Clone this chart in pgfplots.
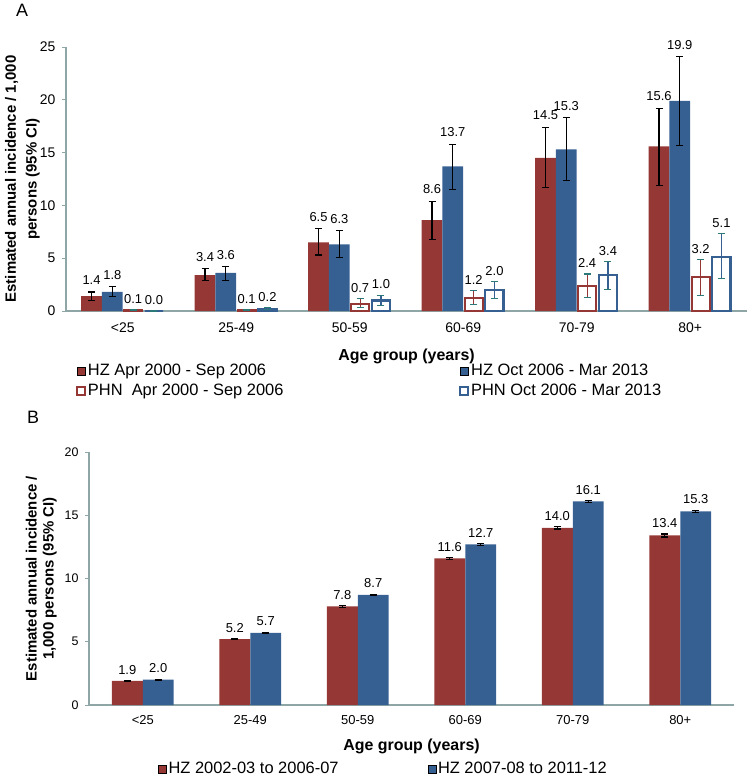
\documentclass[border=0pt]{standalone}
\usepackage{pgfplots}
\pgfplotsset{compat=1.18}
\usepackage{pgfplotstable}
\usepackage{fontspec}
\setmainfont{Liberation Sans}
\definecolor{hzred}{HTML}{953735}
\definecolor{hzblue}{HTML}{376092}
\definecolor{axgray}{HTML}{8FA6A6}
\definecolor{errteal}{HTML}{2A7A7A}

% Panel A data: x, value, error plus, error minus
\pgfplotstableread{
x y ep em
0 1.4 0.4 0.4
1 3.4 0.6 0.5
2 6.5 1.3 1.2
3 8.6 1.8 1.8
4 14.5 2.9 2.8
5 15.6 3.6 3.7
}\hzA
\pgfplotstableread{
x y ep em
0 1.8 0.5 0.4
1 3.6 0.6 0.7
2 6.3 1.3 1.2
3 13.7 2.1 2.2
4 15.3 3.0 2.9
5 19.9 4.2 4.2
}\hzB
\pgfplotstableread{
x y ep em
0 0.1 0.05 0.05
1 0.1 0.05 0.05
2 0.7 0.45 0.4
3 1.2 0.7 0.6
4 2.4 1.1 1.1
5 3.2 1.7 1.7
}\phnA
\pgfplotstableread{
x y ep em
0 0.0 0.03 0.0
1 0.2 0.1 0.1
2 1.0 0.5 0.45
3 2.0 0.8 0.8
4 3.4 1.3 1.4
5 5.1 2.2 2.0
}\phnB
% Panel B data
\pgfplotstableread{
x y ep em
0 1.9 0.04 0.04
1 5.2 0.05 0.05
2 7.8 0.06 0.06
3 11.6 0.07 0.07
4 14.0 0.09 0.09
5 13.4 0.12 0.12
}\hzC
\pgfplotstableread{
x y ep em
0 2.0 0.04 0.04
1 5.7 0.05 0.05
2 8.7 0.05 0.05
3 12.7 0.06 0.06
4 16.1 0.08 0.08
5 15.3 0.10 0.10
}\hzD

\pgfplotsset{
  lbl/.style={
    nodes near coords={\pgfmathprintnumber[fixed,fixed zerofill,precision=1]{\pgfplotspointmeta}},
    point meta=explicit,
    visualization depends on={\thisrow{ep} \as \myep},
    nodes near coords style={font=\fontsize{13}{15}\selectfont, text=black, anchor=south, inner sep=1bp,
      yshift=#1, shift={(axis direction cs:0,\myep)}},
  },
  lbl/.default=6bp,
  errblk/.style={error bars/y dir=both, error bars/y explicit,
      error bars/error bar style={black, line width=1.1bp},
      error bars/error mark options={rotate=90, mark size=3.5bp, black, line width=1.1bp}},
  errteal/.style={error bars/y dir=both, error bars/y explicit,
      error bars/error bar style={errteal, line width=1.1bp},
      error bars/error mark options={rotate=90, mark size=3.5bp, errteal, line width=1.1bp}},
  sqleg/.style={legend image code/.code={\draw[##1] (0bp,-4.5bp) rectangle (8bp,3.5bp);}},
}

\begin{document}
\begin{tikzpicture}
\path[use as bounding box] (0bp,0bp) rectangle (750bp,-778bp);
\node[anchor=north west, inner sep=0, font=\fontsize{18}{20}\selectfont] at (16bp,-4bp) {A};
\node[anchor=north west, inner sep=0, font=\fontsize{18}{20}\selectfont] at (27bp,-411bp) {B};

% ---------------- Panel A ----------------
\begin{axis}[
  at={(66bp,-311bp)}, anchor=south west,
  width=681bp, height=264bp, scale only axis,
  xmin=-0.5, xmax=5.5, ymin=0, ymax=25,
  axis x line*=bottom, axis y line*=left,
  axis line style={axgray, line width=1.6bp},
  ytick={0,5,10,15,20,25},
  ytick style={axgray, line width=1bp}, major tick length=4bp, tick align=outside,
  xtick={0,1,2,3,4,5},
  xticklabels={<25,25-49,50-59,60-69,70-79,80+},
  xtick style={draw=none},
  /pgf/number format/assume math mode=true,
  yticklabel style={font=\fontsize{14}{16}\selectfont, xshift=-3bp},
  xticklabel style={font=\fontsize{14}{16}\selectfont, yshift=-4bp},
  xlabel={Age group (years)},
  xlabel style={font=\bfseries\fontsize{16}{18}\selectfont, at={(axis description cs:0.5,-0.172)}, anchor=center},
  ylabel={Estimated annual incidence / 1,000\\persons (95\% CI)},
  ylabel style={font=\bfseries\fontsize{15}{21}\selectfont, align=center, at={(axis description cs:-0.064,0.5)}, anchor=center},
  clip=false,
  legend columns=2,
  legend cell align=left,
  legend style={draw=none, fill=none, at={(axis description cs:0.014,-0.197)}, anchor=north west,
     font=\fontsize{16.5}{18}\selectfont, inner sep=0pt, row sep=5bp,
     nodes={inner xsep=2bp, inner ysep=1bp}},
]
\addplot[ybar, bar width=0.183, bar shift=0pt, fill=hzred, draw=none, errblk, sqleg, lbl]
  table[x expr=\thisrow{x}-0.275, y=y, y error plus=ep, y error minus=em, meta=y] {\hzA};
\addlegendentry{\makebox[369bp][l]{HZ Apr 2000 - Sep 2006}}
\addplot[ybar, bar width=0.183, bar shift=0pt, fill=hzblue, draw=none, errblk, sqleg, lbl]
  table[x expr=\thisrow{x}-0.092, y=y, y error plus=ep, y error minus=em, meta=y] {\hzB};
\addlegendentry{HZ Oct 2006 - Mar 2013}
\addplot[ybar, bar width=0.16, bar shift=0pt, fill=white, draw=hzred, line width=2.2bp, errteal, sqleg, lbl=4bp]
  table[x expr=\thisrow{x}+0.092, y=y, y error plus=ep, y error minus=em, meta=y] {\phnA};
\addlegendentry{\makebox[369bp][l]{PHN\ \ Apr 2000 - Sep 2006}}
\addplot[ybar, bar width=0.16, bar shift=0pt, fill=white, draw=hzblue, line width=2.2bp, errteal, sqleg, lbl=4bp]
  table[x expr=\thisrow{x}+0.275, y=y, y error plus=ep, y error minus=em, meta=y] {\phnB};
\addlegendentry{PHN Oct 2006 - Mar 2013}
\end{axis}

% ---------------- Panel B ----------------
\begin{axis}[
  at={(89bp,-705bp)}, anchor=south west,
  width=645bp, height=253bp, scale only axis,
  xmin=-0.5, xmax=5.5, ymin=0, ymax=20,
  axis x line*=bottom, axis y line*=left,
  axis line style={axgray, line width=1.6bp},
  ytick={0,5,10,15,20},
  ytick style={axgray, line width=1bp}, major tick length=4bp, tick align=outside,
  xtick={0,1,2,3,4,5},
  xticklabels={<25,25-49,50-59,60-69,70-79,80+},
  xtick style={draw=none},
  /pgf/number format/assume math mode=true,
  yticklabel style={font=\fontsize{12.5}{14}\selectfont, xshift=-3bp},
  xticklabel style={font=\fontsize{13}{15}\selectfont, yshift=-3bp},
  xlabel={Age group (years)},
  xlabel style={font=\bfseries\fontsize{16}{18}\selectfont, at={(axis description cs:0.5,-0.164)}, anchor=center},
  ylabel={Estimated annual incidence /\\1,000 persons (95\% CI)},
  ylabel style={font=\bfseries\fontsize{15}{17}\selectfont, align=center, at={(axis description cs:-0.074,0.5)}, anchor=center},
  clip=false,
  legend columns=2,
  legend cell align=left,
  legend style={draw=none, fill=none, at={(axis description cs:0.107,-0.222)}, anchor=north west,
     font=\fontsize{16.5}{18}\selectfont, inner sep=0pt,
     nodes={inner xsep=2bp, inner ysep=1bp}},
]
\addplot[ybar, bar width=0.288, bar shift=0pt, fill=hzred, draw=none, errblk, sqleg, lbl=5bp]
  table[x expr=\thisrow{x}-0.144, y=y, y error plus=ep, y error minus=em, meta=y] {\hzC};
\addlegendentry{\makebox[257bp][l]{HZ 2002-03 to 2006-07}}
\addplot[ybar, bar width=0.288, bar shift=0pt, fill=hzblue, draw=none, errblk, sqleg, lbl=5bp]
  table[x expr=\thisrow{x}+0.144, y=y, y error plus=ep, y error minus=em, meta=y] {\hzD};
\addlegendentry{HZ 2007-08 to 2011-12}
\end{axis}
\end{tikzpicture}
\end{document}
